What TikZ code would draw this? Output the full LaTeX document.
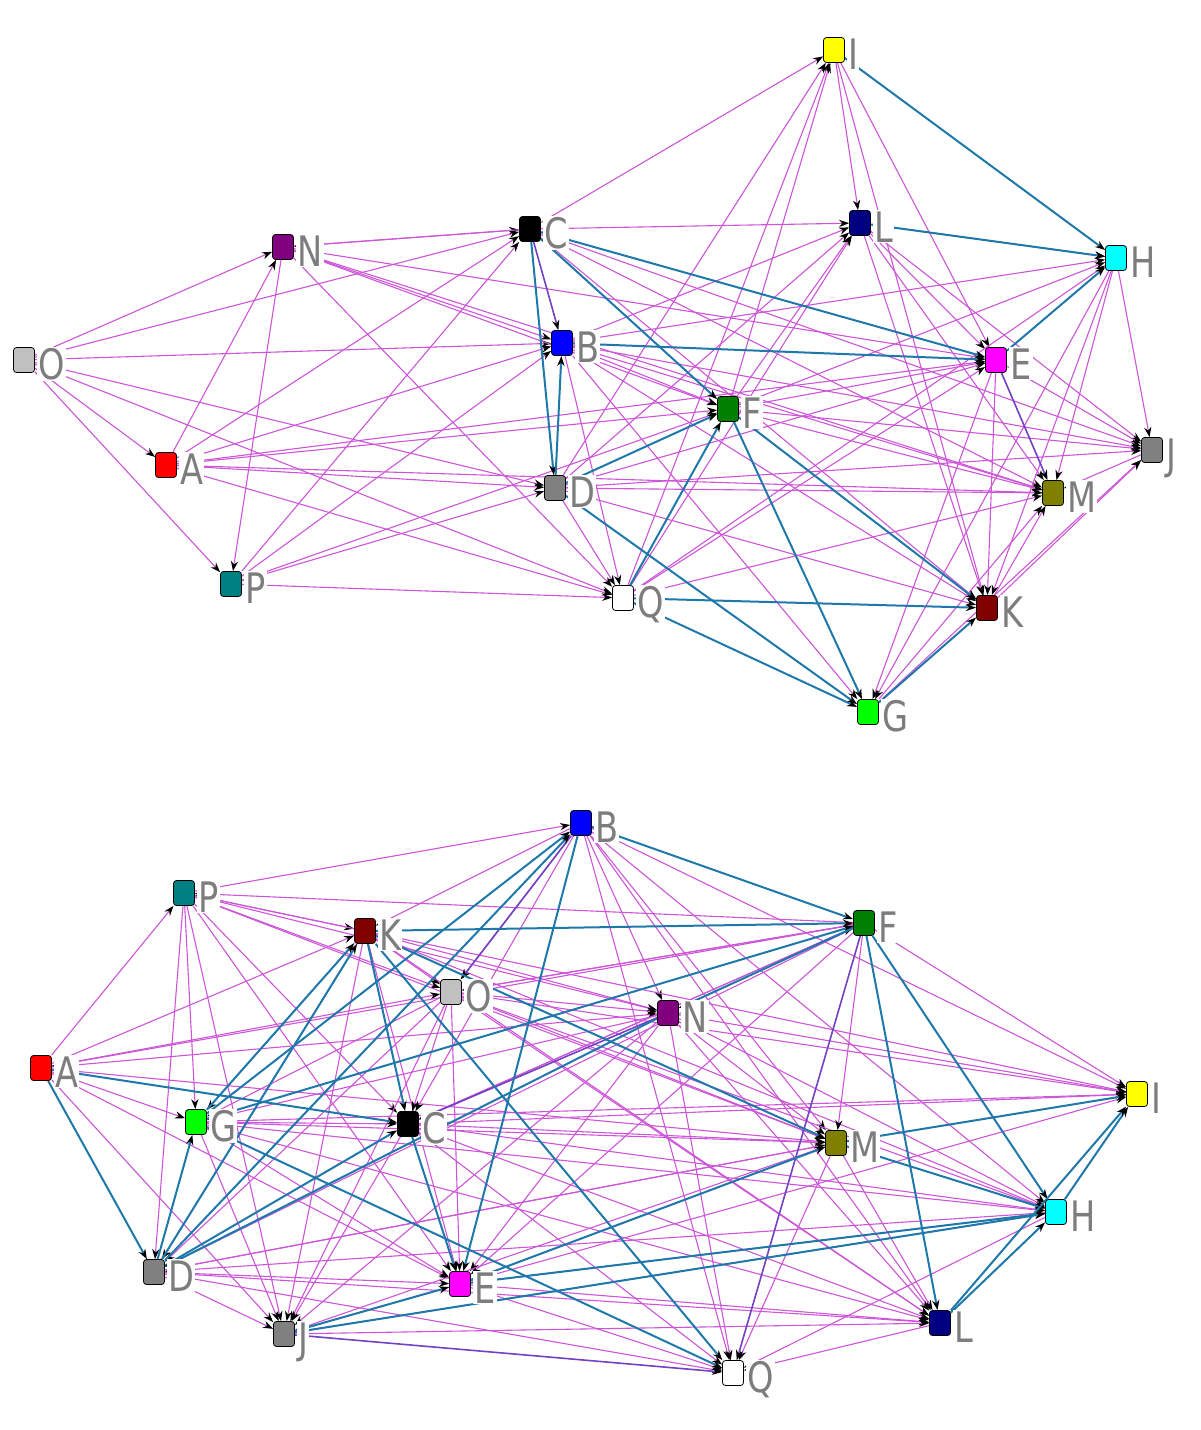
\documentclass[tikz,border=0pt]{standalone}
\usepackage{fontspec}
\setmainfont{DejaVu Sans}
\usetikzlibrary{arrows.meta}
\pgfdeclarelayer{background}
\pgfsetlayers{background,main}
\definecolor{vnavy}{RGB}{0,0,128}
\definecolor{vpurple}{RGB}{128,0,128}
\definecolor{vteal}{RGB}{0,128,128}
\definecolor{volive}{RGB}{128,128,0}
\definecolor{vmaroon}{RGB}{128,0,0}
\definecolor{vlime}{RGB}{0,255,0}
\definecolor{vgreen}{RGB}{0,128,0}
\definecolor{vgray}{RGB}{128,128,128}
\definecolor{vlgray}{RGB}{192,192,192}
\definecolor{vblue}{RGB}{0,0,255}
\definecolor{vmagenta}{RGB}{255,0,255}
\definecolor{vcyan}{RGB}{0,255,255}
\definecolor{vyellow}{RGB}{255,255,0}
\definecolor{vred}{RGB}{255,0,0}
\definecolor{vlabel}{RGB}{125,125,125}
\definecolor{vmag}{RGB}{205,85,215}
\definecolor{vedgeblue}{RGB}{30,120,170}
\definecolor{vviolet}{RGB}{115,65,195}
\begin{document}
\begin{tikzpicture}[x=0.5pt,y=-0.5pt,
  vtx/.style={draw=black, line width=0.4pt, rounded corners=1.5pt, minimum width=10.5pt, minimum height=12.5pt, inner sep=0pt},
  lbl/.style={anchor=base west, text=vlabel, fill=white, font=\fontsize{21}{21}\selectfont, inner sep=0.5pt},
  mg/.style={draw=vmag, line width=0.55pt, -{Stealth[length=5pt,width=3.6pt,black]}},
  bl/.style={draw=vedgeblue, line width=1pt, -{Stealth[length=5pt,width=3.6pt,black]}},
  vi/.style={draw=vviolet, line width=0.8pt, -{Stealth[length=5pt,width=3.6pt,black]}}]
\useasboundingbox (0,0) rectangle (1200,1430);
% top graph nodes
\foreach \nm/\x/\y/\col in {I/834/50/vyellow, C/530/229/black, L/860/223/vnavy, H/1116/258/vcyan,
  N/283/247/vpurple, O/24/360/vlgray, B/562/343/vblue, E/996/360/vmagenta, F/728/409/vgreen,
  A/166/465/vred, D/555/488/vgray, J/1152/450/vgray, M/1053/493/volive, P/231/584/vteal,
  Q/623/598/white, K/987/608/vmaroon, G/868/712/vlime}{
  \node[vtx, fill=\col] (\nm1) at (\x,\y) {};
  \node[lbl] (l\nm1) at (\x+13,\y+19) {\scalebox{0.8}[1]{\nm}};
}
% bottom graph nodes
\foreach \nm/\x/\y/\col in {B/581/823/vblue, P/184/893/vteal, K/365/931/vmaroon, F/864/923/vgreen,
  O/451/992/vlgray, N/668/1013/vpurple, A/41/1068/vred, I/1137/1094/vyellow, G/196/1122/vlime,
  C/408/1124/black, M/836/1143/volive, H/1056/1212/vcyan, D/154/1272/vgray, E/460/1284/vmagenta,
  J/284/1334/vgray, L/940/1323/vnavy, Q/733/1373/white}{
  \node[vtx, fill=\col] (\nm2) at (\x,\y) {};
  \node[lbl] (l\nm2) at (\x+13,\y+19) {\scalebox{0.8}[1]{\nm}};
}
\begin{pgfonlayer}{background}
% ---------- top graph edges ----------
\foreach \s/\t in {O/N, O/C, O/B, O/D, O/Q, O/A, O/P,
  N/C, C/N, N/B, N/F, N/E, N/M, N/Q, A/N, N/P,
  A/C, A/B, A/F, A/E, A/D, A/Q, A/M,
  P/C, P/B, P/D, P/F, P/Q,
  C/L, B/L, C/M, C/J, C/K, C/I,
  D/I, F/I, Q/I, I/L, I/E, I/K,
  F/L, D/L, Q/L, L/E, L/M, L/K, L/J, L/H,
  B/H, F/H, Q/H, H/M, H/J, H/K, H/G,
  B/F, B/M, B/J, B/K, B/Q, B/G,
  F/E, D/E, Q/E, E/J, E/K, E/G,
  F/M, F/J, D/M, D/J, D/Q, D/K,
  Q/M, K/M, K/J, J/M, G/M, G/J}
  \draw[mg] (\s1) -- (\t1);
\foreach \s/\t in {C/B, E/M}
  \draw[vi] (\s1) -- (\t1);
\foreach \s/\t in {I/H, L/H, E/H, C/E, C/F, B/E, C/D, D/B, D/F, Q/F, F/G, F/K, D/G, Q/G, Q/K, G/K}
  \draw[bl] (\s1) -- (\t1);
% ---------- bottom graph edges ----------
\foreach \s/\t in {P/B, P/K, K/P, P/O, P/N, P/M, P/G, P/D, P/J, P/E, P/C,
  A/P, A/K, A/O, A/N, A/G, A/E, A/J, A/M,
  B/K, B/O, B/C, B/N, B/M, B/H, B/I, B/L, B/Q,
  K/O, K/N, K/E, K/J, K/D, K/G, K/I, K/H, K/L,
  O/C, O/N, O/M, O/H, O/L, O/D, O/E, O/J, O/F, O/I, O/G,
  N/M, N/Q, N/L, N/I, N/H, N/E, N/J, N/G,
  F/I, F/M, F/E, F/D, F/A, F/P, F/C, F/O,
  G/C, G/M, G/J, G/E, G/L, G/H, G/I,
  C/M, C/I, C/H, C/L, C/J, C/Q, C/F,
  M/L, M/Q, M/E, M/J, M/D,
  H/Q, H/E, H/J, H/D,
  D/E, D/J, D/L, D/Q, D/M,
  E/J, E/L, E/Q, E/I, J/L, L/Q}
  \draw[mg] (\s2) -- (\t2);
\foreach \s/\t in {N/C, F/Q, J/Q, B/O}
  \draw[vi] (\s2) -- (\t2);
\foreach \s/\t in {B/F, K/F, A/C, A/D, D/G, G/K, D/B, D/C, D/K, K/C, K/M, K/Q, G/Q,
  C/E, B/E, G/B, N/D, G/F, F/N, F/L, F/H, M/H, M/I, E/H, J/H, E/M, J/E, L/H, H/I, L/I}
  \draw[bl] (\s2) -- (\t2);
\end{pgfonlayer}
\end{tikzpicture}
\end{document}
